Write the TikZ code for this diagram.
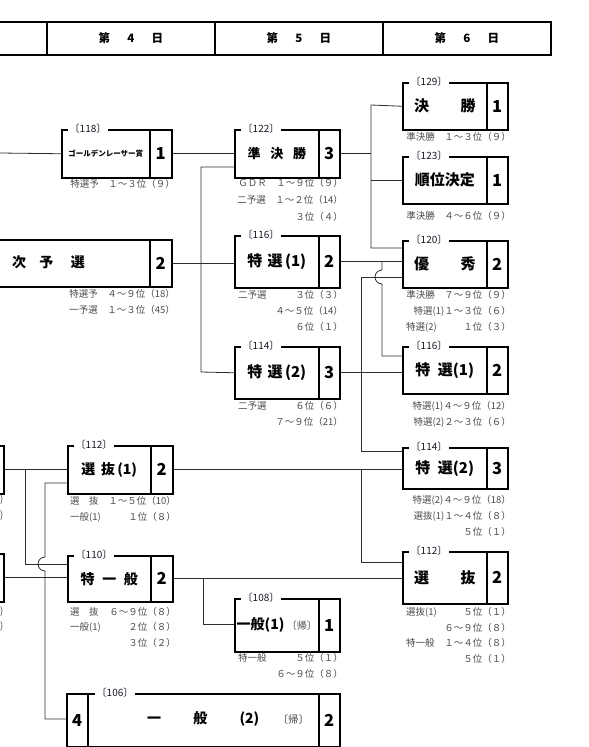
\documentclass[tikz,border=0pt]{standalone}
\usepackage{fontspec}
\setmainfont{Noto Sans CJK JP}
\usepackage{tikz}
\usetikzlibrary{positioning}
\definecolor{boxline}{RGB}{0,0,0}
\definecolor{wireline}{RGB}{45,45,45}
\definecolor{subgray}{RGB}{75,75,75}
\definecolor{taggray}{RGB}{25,25,40}

\begin{document}
\begin{tikzpicture}[x=1pt, y=-1pt,
  rbox/.style={draw=boxline, line width=1.5pt, inner sep=0pt, anchor=north west},
  hbox/.style={draw=boxline, line width=1.8pt, inner sep=0pt, anchor=north west,
    minimum height=33pt, font=\fontsize{11.5}{12}\selectfont\bfseries},
  wire/.style={draw=wireline, line width=0.8pt},
  tag/.style={fill=white, inner sep=1.5pt, text=taggray, anchor=west,
    font=\fontsize{10}{10}\selectfont},
  sub/.style={text=subgray, inner sep=0pt, font=\fontsize{9.5}{10}\selectfont},
  num/.style={font=\fontsize{16.5}{16}\selectfont\bfseries},
  btxt/.style={inner sep=0pt, anchor=west, font=\fontsize{14}{14}\selectfont\bfseries}
]
\useasboundingbox (0,0) rectangle (589,747);
\clip (0,0) rectangle (589,747);

% Header row (days)
\foreach \nm/\xa/\xb/\tx in {d3/-20/46/{}, d4/46/214/{第\hspace{1.5em}4\hspace{1.5em}日},
  d5/214/382/{第\hspace{1.5em}5\hspace{1.5em}日}, d6/382/550/{第\hspace{1.5em}6\hspace{1.5em}日}} {
  \node[hbox, minimum width={(\xb-\xa)*1pt}] (\nm) at (\xa,21) {\tx};
}

% Race boxes: name/left/divider/right/top/bottom/race no./entries/title/font size
\foreach \nm/\xl/\xd/\xr/\yt/\yb/\lb/\nu/\tx/\fs in {
  g118/61/149/171/129/177/118/1/{ゴールデンレーサー賞}/7.5,
  sb1/67/150/172/445/493/112/2/{選\hspace{0.4em}抜\,(1)}/14,
  tip/67/150/172/555/601/110/2/{特\hspace{0.55em}一\hspace{0.55em}般}/14,
  jk/234/318/339/129/177/122/3/{準\hspace{0.75em}決\hspace{0.75em}勝}/13,
  ts1/234/318/339/235/287/116/2/{特\hspace{0.35em}選\,(1)}/15,
  ts2/234/318/339/346/398/114/3/{特\hspace{0.35em}選\,(2)}/15,
  ip1/234/318/339/598/651/108/1/{一般(1)\,{\mdseries\fontsize{10}{10}\selectfont\color{subgray}〔帰〕}}/14,
  ks/402/486/507/82/129/129/1/{決\hspace{2.1em}勝}/15,
  jun/402/486/507/156/203/123/1/{順位決定}/15,
  yu/402/486/507/240/287/120/2/{優\hspace{2.1em}秀}/15,
  ts1b/402/486/507/346/393/116/2/{特\hspace{0.5em}選(1)}/15,
  ts2b/402/486/507/447/488/114/3/{特\hspace{0.5em}選(2)}/15,
  sbb/402/486/507/551/603/112/2/{選\hspace{2.1em}抜}/15} {
  \node[rbox, minimum width={(\xd-\xl)*1pt}, minimum height={(\yb-\yt)*1pt},
    font=\fontsize{\fs}{\fs}\selectfont\bfseries] (\nm) at (\xl,\yt) {\tx};
  \node[rbox, num, minimum width={(\xr-\xd)*1pt}, minimum height={(\yb-\yt)*1pt}]
    (\nm-n) at (\xd,\yt) {\nu};
  \node[tag] (\nm-t) at (\xl+7,\yt) {〔\lb〕};
}

% Boxes cut by the left edge
\node[rbox, minimum width=189pt, minimum height=47pt] (niyo) at (-40,239) {};
\node[rbox, num, minimum width=22pt, minimum height=47pt] (niyo-n) at (149,239) {2};
\node[btxt] (niyo-t) at (12,262) {次\hspace{0.95em}予\hspace{1.25em}選};
\node[rbox, minimum width=23pt, minimum height=48pt] (lfa) at (-20,445) {};
\node[rbox, minimum width=23pt, minimum height=48pt] (lfb) at (-20,553) {};

% 一般(2), with an entry cell on the left
\node[rbox, num, minimum width=21pt, minimum height=53pt] (ip2-l) at (66,693) {4};
\node[rbox, minimum width=231pt, minimum height=53pt] (ip2) at (87,693) {};
\node[rbox, num, minimum width=21pt, minimum height=53pt] (ip2-n) at (318,693) {2};
\node[tag] (ip2-t) at (95,693) {〔106〕};
\node[btxt] (ip2-x) at (147,719) {一\hspace{2.3em}般\hspace{2.3em}(2)\hspace{1.3em}{\mdseries\fontsize{10.5}{10}\selectfont\color{subgray}〔帰〕}};

% Qualifier lines under the boxes (right part)
\foreach \nm/\xx/\yy/\tx in {
  s1/171/184/{特選予　１～３位（９）}, s2/171/294/{特選予　４～９位（18）},
  s3/171/310/{一予選　１～３位（45）},
  s4/339/183/{ＧＤＲ　１～９位（９）}, s5/339/200/{二予選　１～２位（14）},
  s6/339/217/{３位（４）},
  s7/339/295/{３位（３）}, s8/339/311/{４～５位（14）}, s9/339/327/{６位（１）},
  s10/339/406/{６位（６）}, s11/339/422/{７～９位（21）},
  s12/339/658/{５位（１）}, s13/339/674/{６～９位（８）},
  s14/172/501/{１～５位（10）}, s15/172/517/{１位（８）},
  s16/172/612/{６～９位（８）}, s17/172/627/{２位（８）}, s18/172/643/{３位（２）},
  s19/507/137/{準決勝　１～３位（９）}, s20/507/216/{準決勝　４～６位（９）},
  s21/507/295/{準決勝　７～９位（９）}, s22/507/311/{特選(1)１～３位（６）},
  s23/507/327/{１位（３）},
  s24/507/406/{特選(1)４～９位（12）}, s25/507/422/{特選(2)２～３位（６）},
  s26/507/500/{特選(2)４～９位（18）}, s27/507/516/{選抜(1)１～４位（８）},
  s28/507/532/{５位（１）},
  s29/507/612/{５位（１）}, s30/507/628/{６～９位（８）}, s31/507/643/{１～４位（８）},
  s32/507/659/{５位（１）}} {
  \node[sub, anchor=east] (\nm) at (\xx+4,\yy) {\tx};
}
% (left part)
\foreach \nm/\xx/\yy/\tx in {
  l1/238/295/{二予選}, l2/238/406/{二予選}, l3/238/658/{特一般},
  l4/70/501/{選　抜}, l5/70/517/{一般(1)}, l6/70/612/{選　抜}, l7/70/627/{一般(1)},
  l8/406/327/{特選(2)}, l9/406/612/{選抜(1)}, l10/406/643/{特一般},
  c1/0/500/{)}, c2/0/516/{)}, c3/0/612/{)}, c4/0/627/{)}} {
  \node[sub, anchor=west] (\nm) at (\xx,\yy) {\tx};
}

% Day 4 -> day 5
\coordinate (in118) at (0,153);
\draw[wire] (in118) -- (g118.west);
\draw[wire] (g118-n.east) -- (jk.west |- g118-n.east);
\draw[wire] (niyo-n.east) -- (ts1.west |- niyo-n.east);
\coordinate (sp1) at (201,167);
\coordinate (sp2) at (201,372);
\draw[wire] (jk.west |- sp1) -- (sp1) -- (sp2) -- (ts2.west);

% Day 5 -> day 6
\coordinate (fk1) at (371,105);
\coordinate (fk2) at (371,248);
\draw[wire] (jk-n.east) -- (jk-n.east -| fk1);
\draw[wire] (ks.west) -- (fk1) -- (fk2) -- (yu.west |- fk2);
\draw[wire] (jun.west) -- (jun.west -| fk1);
\draw[wire] (ts1-n.east) -- (yu.west |- ts1-n.east);
\coordinate (fy1) at (382,261);
\coordinate (fy2) at (382,356);
\draw[wire] (fy1) -- (382,270) arc[start angle=270, end angle=90, radius=7] -- (fy2) -- (ts1b.west |- fy2);
\coordinate (fz1) at (361,277);
\coordinate (fz2) at (361,451);
\draw[wire] (yu.west |- fz1) -- (fz1) -- (fz2) -- (ts2b.west |- fz2);
\draw[wire] (ts2-n.east) -- (ts1b.west |- ts2-n.east);

% Day 4 -> day 6
\draw[wire] (sb1-n.east) -- (ts2b.west |- sb1-n.east);
\coordinate (fs1) at (361,469);
\coordinate (fs2) at (361,562);
\draw[wire] (fs1) -- (fs2) -- (sbb.west |- fs2);
\draw[wire] (tip-n.east) -- (sbb.west |- tip-n.east);
\coordinate (fi1) at (203,578);
\coordinate (fi2) at (203,624);
\draw[wire] (fi1) -- (fi2) -- (ip1.west |- fi2);

% Left side (day 3 -> day 4)
\draw[wire] (lfa.east) -- (sb1.west);
\coordinate (la1) at (25,469);
\coordinate (la2) at (25,564);
\draw[wire] (la1) -- (la2) -- (tip.west |- la2);
\draw[wire] (lfb.east) -- (tip.west |- lfb.east);
\coordinate (lb1) at (45,483);
\coordinate (lb2) at (45,719);
\draw[wire] (sb1.west |- lb1) -- (lb1) -- (45,557) arc[start angle=270, end angle=90, radius=7] -- (lb2) -- (ip2-l.west |- lb2);

\end{tikzpicture}
\end{document}
